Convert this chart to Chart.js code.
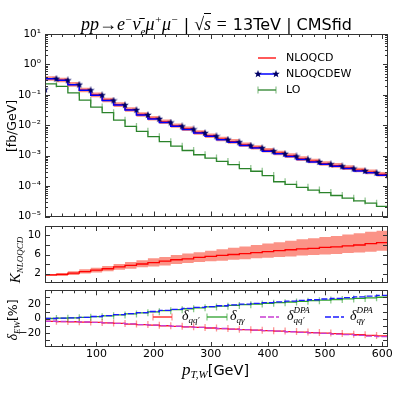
<!DOCTYPE html>
<html>
<head>
<meta charset="utf-8">
<script src="https://cdn.jsdelivr.net/npm/chart.js@4.4.0/dist/chart.umd.min.js"></script>
<style>
  body { margin: 0; background: #fff; width: 399px; height: 399px; overflow: hidden; position: relative; font-family: "DejaVu Sans", sans-serif; }
  canvas { position: absolute; left: 0; }
  .t { position: absolute; white-space: nowrap; color: #000; line-height: 1; }
  .m { font-family: "Liberation Serif", serif; font-style: italic; }
  sup, sub { font-size: 0.62em; line-height: 0; }
  .rot { transform: translate(-50%, -50%) rotate(-90deg); }
</style>
</head>
<body>
<canvas id="cMain" width="399" height="222" style="top:0px"></canvas>
<canvas id="cK" width="399" height="66" style="top:220px"></canvas>
<canvas id="cD" width="399" height="114" style="top:285px"></canvas>

<div class="t" style="left:45px;width:343px;top:15px;text-align:center;font-size:16px;">
  <span class="m" style="font-size:18px">pp→e<sup>−</sup>ν̄<sub>e</sub>μ<sup>+</sup>μ<sup>−</sup></span> | <span class="m" style="font-size:18px">√<span style="border-top:1px solid #000">s</span> =</span> 13TeV | CMSfid
</div>
<div class="t rot" style="left:12px;top:126px;font-size:12.5px;">[fb/GeV]</div>
<div class="t rot" style="left:15px;top:260px;"><span class="m" style="font-size:15px">K</span><span class="m" style="font-size:9px;position:relative;top:3px">NLOQCD</span></div>
<div class="t rot" style="left:13px;top:320px;font-size:12.5px;"><span class="m" style="font-size:14px">δ</span><span class="m" style="font-size:9px;position:relative;top:3px">EW</span>[%]</div>
<div class="t" style="left:182px;top:361px;font-size:14.5px;"><span class="m" style="font-size:17px">p</span><span class="m" style="font-size:11px;position:relative;top:3px">T,W</span>[GeV]</div>

<script>
// bin edges (pT,W in GeV); each value is the bin that ends at that edge
var ptW = [10, 30, 50, 70, 90, 110, 130, 150, 170, 190, 210, 230, 250, 270, 290, 310,
           330, 350, 370, 390, 410, 430, 450, 470, 490, 510, 530, 550, 570, 590, 610];

// main panel, fb/GeV
var nloqcd = [0.152, 0.34, 0.302, 0.218, 0.143, 0.099, 0.067, 0.0475, 0.0327, 0.0226, 0.0168,
              0.0128, 0.0096, 0.0076, 0.00578, 0.00452, 0.00352, 0.0029, 0.00225, 0.00186, 0.00148,
              0.00121, 0.00099, 0.00079, 0.00066, 0.00055, 0.000472, 0.000398, 0.000335, 0.000288, 0.000242];
var nloqcdUp = [0.182, 0.41, 0.362, 0.262, 0.172, 0.119, 0.080, 0.057, 0.039, 0.027, 0.020,
                0.0154, 0.0115, 0.0091, 0.0069, 0.0054, 0.0042, 0.0035, 0.0027, 0.0022, 0.00178,
                0.00145, 0.00119, 0.00095, 0.00079, 0.00066, 0.00057, 0.00048, 0.0004, 0.00035, 0.00029];
var nloqcdDn = [0.129, 0.29, 0.257, 0.185, 0.122, 0.084, 0.057, 0.040, 0.0278, 0.0192, 0.0143,
                0.0109, 0.0082, 0.0065, 0.0049, 0.00384, 0.003, 0.00247, 0.00191, 0.00158, 0.00126,
                0.00103, 0.00084, 0.00067, 0.00056, 0.00047, 0.0004, 0.00034, 0.000285, 0.000245, 0.000206];
var nloqcdew = [0.15, 0.338, 0.30, 0.216, 0.141, 0.097, 0.065, 0.046, 0.0316, 0.0218, 0.0162,
                0.0123, 0.0092, 0.0073, 0.00554, 0.00433, 0.00336, 0.00277, 0.00214, 0.00177, 0.00141,
                0.00115, 0.00094, 0.00075, 0.00062, 0.00052, 0.000446, 0.000376, 0.000316, 0.000272, 0.000228];
var lo = [0.09, 0.228, 0.19, 0.116, 0.0668, 0.0396, 0.026, 0.0147, 0.00915, 0.0063, 0.0042,
          0.00289, 0.00205, 0.00148, 0.00107, 0.000836, 0.000648, 0.000507, 0.000376, 0.000307, 0.000222,
          0.000139, 0.000114, 0.000091, 0.000074, 0.000061, 0.000049, 0.00004, 0.0000326, 0.0000274, 0.0000214];

// K factor panel
var kNlo   = [1.6, 1.7, 1.8, 2.1, 2.4, 2.7, 3.0, 3.4, 3.7, 4.0, 4.3, 4.6, 4.9, 5.1, 5.4, 5.6,
              5.8, 6.0, 6.2, 6.4, 6.6, 6.8, 7.0, 7.2, 7.3, 7.5, 7.6, 7.8, 8.0, 8.3, 8.5];
var kNloUp = [1.8, 1.9, 2.1, 2.5, 2.9, 3.2, 3.6, 4.0, 4.4, 4.8, 5.2, 5.5, 5.9, 6.2, 6.5, 6.8,
              7.1, 7.4, 7.7, 8.0, 8.3, 8.6, 8.9, 9.2, 9.4, 9.7, 9.9, 10.2, 10.5, 10.8, 11.0];
var kNloDn = [1.4, 1.5, 1.5, 1.7, 2.0, 2.2, 2.5, 2.8, 3.0, 3.3, 3.5, 3.7, 4.0, 4.2, 4.4, 4.6,
              4.7, 4.9, 5.0, 5.2, 5.3, 5.5, 5.6, 5.8, 5.9, 6.0, 6.1, 6.3, 6.4, 6.6, 6.8];

// EW corrections, %
var dQQ    = [-3.5, -3.8, -4.1, -4.4, -4.8, -5.3, -6.0, -6.8, -7.6, -8.4, -9.2, -10.0, -10.8, -11.6, -12.4, -13.2,
              -14.0, -14.8, -15.5, -16.2, -16.9, -17.6, -18.3, -19.0, -19.7, -20.4, -21.1, -21.9, -22.7, -23.6, -24.4];
var dQA    = [0, 0.2, 0.6, 1.1, 1.8, 2.8, 4.0, 5.3, 6.7, 8.2, 9.7, 11.2, 12.6, 14.0, 15.3, 16.5,
              17.6, 18.7, 19.7, 20.7, 21.7, 22.6, 23.5, 24.4, 25.3, 26.2, 27.0, 27.8, 28.6, 29.4, 30.2];
var dQQdpa = [-3.4, -3.7, -4.0, -4.3, -4.7, -5.2, -5.9, -6.7, -7.5, -8.3, -9.1, -9.9, -10.7, -11.5, -12.3, -13.1,
              -13.9, -14.7, -15.4, -16.2, -16.9, -17.7, -18.5, -19.3, -20.1, -20.9, -21.7, -22.6, -23.5, -24.6, -25.5];
var dQAdpa = [0, 0.2, 0.6, 1.1, 1.9, 3.0, 4.2, 5.6, 7.1, 8.6, 10.1, 11.6, 13.1, 14.5, 15.8, 17.0,
              18.2, 19.4, 20.5, 21.6, 22.7, 23.7, 24.7, 25.7, 26.7, 27.7, 28.7, 29.7, 30.7, 31.7, 32.7];

var xTicks = [100, 200, 300, 400, 500, 600];
var yTicksMain = [1e-5, 1e-4, 1e-3, 1e-2, 1e-1, 1, 10];
var yTicksK = [2, 6, 10];
var yTicksD = [-20, 0, 20];
var mainNames = ['NLOQCD', 'NLOQCDEW', 'LO'];
var deltaNames = [['qq′', ''], ['qγ', ''], ['qq′', 'DPA'], ['qγ', 'DPA']];

function pts(vals) {
  return ptW.map(function (x, i) { return { x: x, y: vals[i] }; });
}

function starImg(size, color) {
  var c = document.createElement('canvas');
  c.width = c.height = size;
  var g = c.getContext('2d');
  var R = size / 2, r = R * 0.42;
  g.fillStyle = color;
  g.beginPath();
  for (var i = 0; i < 10; i++) {
    var a = -Math.PI / 2 + i * Math.PI / 5;
    var rr = i % 2 ? r : R;
    g.lineTo(R + rr * Math.cos(a), R + rr * Math.sin(a));
  }
  g.closePath();
  g.fill();
  return c;
}
var star = starImg(8, '#000066');

var supMap = { '-': '⁻', '0': '⁰', '1': '¹', '2': '²', '3': '³', '4': '⁴', '5': '⁵' };
function pow10(v) {
  var e = String(Math.round(Math.log10(v)));
  return '10' + e.split('').map(function (c) { return supMap[c]; }).join('');
}

// frame with inward ticks on all four sides
function frame(xMaj, xMin, yMaj, yMin) {
  return {
    id: 'frame',
    afterDatasetsDraw: function (chart) {
      var ctx = chart.ctx, a = chart.chartArea, sx = chart.scales.x, sy = chart.scales.y;
      ctx.save();
      ctx.strokeStyle = '#333';
      ctx.lineWidth = 1;
      function seg(x0, y0, x1, y1) { ctx.beginPath(); ctx.moveTo(x0, y0); ctx.lineTo(x1, y1); ctx.stroke(); }
      function xt(list, len) {
        list.forEach(function (v) {
          var p = Math.round(sx.getPixelForValue(v)) + 0.5;
          seg(p, a.top, p, a.top + len); seg(p, a.bottom, p, a.bottom - len);
        });
      }
      function yt(list, len) {
        list.forEach(function (v) {
          var p = Math.round(sy.getPixelForValue(v)) + 0.5;
          seg(a.left, p, a.left + len, p); seg(a.right, p, a.right - len, p);
        });
      }
      xt(xMaj, 5); xt(xMin, 3); yt(yMaj, 5); yt(yMin, 3);
      ctx.strokeRect(Math.round(a.left) + 0.5, Math.round(a.top) + 0.5,
                     Math.round(a.right - a.left) - 1, Math.round(a.bottom - a.top) - 1);
      ctx.restore();
    }
  };
}

var xMinor = [];
for (var v = 20; v <= 600; v += 20) if (v % 100) xMinor.push(v);
var logMinor = [];
yTicksMain.slice(0, -1).forEach(function (d) { for (var k = 2; k <= 9; k++) logMinor.push(d * k); });

function noPad(s) { s.paddingTop = 0; s.paddingBottom = 0; s.paddingLeft = 0; s.paddingRight = 0; }

function xAxis(show) {
  return {
    type: 'linear', min: 10, max: 610, display: show,
    grid: { display: false, drawTicks: false }, border: { display: false },
    afterBuildTicks: function (s) { s.ticks = xTicks.map(function (v) { return { value: v }; }); },
    afterFit: function (s) { noPad(s); if (show) s.height = 18; },
    ticks: { color: '#000', font: { family: 'DejaVu Sans', size: 11 }, padding: 1, maxRotation: 0 }
  };
}
function yAxis(extra) {
  var o = {
    grid: { display: false, drawTicks: false }, border: { display: false },
    afterFit: function (s) { noPad(s); s.width = 45; },
    ticks: { color: '#000', font: { family: 'DejaVu Sans', size: 10.5 }, padding: 4 }
  };
  for (var k in extra) o[k] = extra[k];
  return o;
}
var base = {
  responsive: false, animation: false, events: [],
  plugins: { legend: { display: false }, tooltip: { enabled: false } }
};
function opts(padding, scales) {
  return Object.assign({}, base, { layout: { padding: padding }, scales: scales });
}

var BAND = 'rgba(250,128,114,0.85)';

// main panel legend
var mainLegend = {
  id: 'mainLegend',
  afterDatasetsDraw: function (chart) {
    var ctx = chart.ctx;
    var rows = [chart.data.datasets[1], chart.data.datasets[0], chart.data.datasets[4]];
    ctx.save();
    rows.forEach(function (ds, i) {
      var y = 58 + i * 16;
      ctx.strokeStyle = ds.borderColor;
      ctx.lineWidth = ds.borderWidth;
      ctx.beginPath(); ctx.moveTo(258, y); ctx.lineTo(276, y); ctx.stroke();
      if (ds.pointRadius > 0) {
        [258, 276].forEach(function (x) {
          ctx.strokeStyle = ds.pointBorderColor; ctx.fillStyle = ds.pointBorderColor;
          ctx.lineWidth = 1.3;
          Chart.helpers.drawPoint(ctx, { pointStyle: ds.pointStyle, rotation: ds.pointRotation || 0, radius: ds.pointRadius, borderWidth: 1.3 }, x, y);
        });
      }
      ctx.fillStyle = '#000';
      ctx.font = '11px "DejaVu Sans"';
      ctx.textBaseline = 'middle';
      ctx.fillText(mainNames[i], 286, y);
    });
    ctx.restore();
  }
};

new Chart(document.getElementById('cMain'), {
  type: 'line',
  data: {
    datasets: [
      { label: mainNames[1], data: pts(nloqcdew), stepped: 'after', borderColor: '#0000ff', borderWidth: 1.5,
        pointStyle: star, pointRadius: 4, pointBorderColor: '#000066', order: 0 },
      { label: mainNames[0], data: pts(nloqcd), stepped: 'after', borderColor: '#ff0000', borderWidth: 1.3,
        pointRadius: 0, order: 1 },
      { label: 'up', data: pts(nloqcdUp), stepped: 'after', borderWidth: 0, pointRadius: 0,
        fill: '+1', backgroundColor: BAND, order: 2 },
      { label: 'dn', data: pts(nloqcdDn), stepped: 'after', borderWidth: 0, pointRadius: 0, fill: false, order: 3 },
      { label: mainNames[2], data: pts(lo), stepped: 'after', borderColor: '#2a822a', borderWidth: 1.3,
        pointStyle: 'line', pointRotation: 90, pointRadius: 3.5, pointBorderWidth: 1.3,
        pointBorderColor: 'rgba(60,150,60,0.55)', order: 4 }
    ]
  },
  options: opts({ left: 0, right: 11, top: 34, bottom: 4 }, {
    x: xAxis(false),
    y: yAxis({
      type: 'logarithmic', min: 1e-5, max: 10,
      afterBuildTicks: function (s) { s.ticks = yTicksMain.map(function (v) { return { value: v }; }); },
      ticks: { color: '#000', font: { family: 'DejaVu Sans', size: 10.5 }, padding: 4, callback: pow10 }
    })
  }),
  plugins: [frame(xTicks, xMinor, yTicksMain, logMinor), mainLegend]
});

new Chart(document.getElementById('cK'), {
  type: 'line',
  data: {
    datasets: [
      { label: 'K', data: pts(kNlo), stepped: 'after', borderColor: '#ff0000', borderWidth: 1.3, pointRadius: 0, order: 0 },
      { label: 'up', data: pts(kNloUp), stepped: 'after', borderWidth: 0, pointRadius: 0, fill: '+1', backgroundColor: BAND, order: 1 },
      { label: 'dn', data: pts(kNloDn), stepped: 'after', borderWidth: 0, pointRadius: 0, fill: false, order: 2 }
    ]
  },
  options: opts({ left: 0, right: 11, top: 6, bottom: 3 }, {
    x: xAxis(false),
    y: yAxis({
      type: 'linear', min: 0, max: 12,
      afterBuildTicks: function (s) { s.ticks = yTicksK.map(function (v) { return { value: v }; }); }
    })
  }),
  plugins: [frame(xTicks, xMinor, [2, 4, 6, 8, 10], [])]
});

// EW legend
var deltaLegend = {
  id: 'deltaLegend',
  afterDatasetsDraw: function (chart) {
    var ctx = chart.ctx, y = 32;
    var pos = [[153, 172, 182], [207, 227, 230], [260, 279, 287], [325, 344, 350]];
    var ds = chart.data.datasets;
    ctx.save();
    [0, 1, 2, 3].forEach(function (i) {
      var d = ds.filter(function (q) { return q.key === i; })[0];
      var p = pos[i];
      ctx.strokeStyle = d.borderColor; ctx.lineWidth = d.borderWidth;
      ctx.setLineDash(d.borderDash || []);
      ctx.beginPath(); ctx.moveTo(p[0], y); ctx.lineTo(p[1], y); ctx.stroke();
      ctx.setLineDash([]);
      if (d.pointRadius > 0) {
        [p[0], p[1]].forEach(function (x) {
          ctx.strokeStyle = d.pointBorderColor; ctx.lineWidth = 1.3;
          Chart.helpers.drawPoint(ctx, { pointStyle: 'line', rotation: 90, radius: d.pointRadius, borderWidth: 1.3 }, x, y);
        });
      }
      ctx.fillStyle = '#000';
      ctx.textBaseline = 'alphabetic';
      ctx.font = 'italic 14px "Liberation Serif"';
      ctx.fillText('δ', p[2], y + 3);
      var w = ctx.measureText('δ').width;
      ctx.font = 'italic 9px "Liberation Serif"';
      ctx.fillText(deltaNames[i][0], p[2] + w, y + 6);
      if (deltaNames[i][1]) ctx.fillText(deltaNames[i][1], p[2] + w, y - 4);
    });
    ctx.restore();
  }
};

new Chart(document.getElementById('cD'), {
  type: 'line',
  data: {
    datasets: [
      { key: 3, label: 'dQAdpa', data: pts(dQAdpa), stepped: 'after', borderColor: '#1a1aff', borderWidth: 1.3,
        borderDash: [6, 2], pointRadius: 0, order: 0 },
      { key: 2, label: 'dQQdpa', data: pts(dQQdpa), stepped: 'after', borderColor: 'rgb(200,60,210)', borderWidth: 1.3,
        borderDash: [6, 2], pointRadius: 0, order: 1 },
      { key: 1, label: 'dQA', data: pts(dQA), stepped: 'after', borderColor: '#2ca02c', borderWidth: 1.3,
        pointStyle: 'line', pointRotation: 90, pointRadius: 3.5, pointBorderWidth: 1.3,
        pointBorderColor: 'rgba(44,160,44,0.55)', order: 2 },
      { key: 0, label: 'dQQ', data: pts(dQQ), stepped: 'after', borderColor: '#ff1a1a', borderWidth: 1.3,
        pointStyle: 'line', pointRotation: 90, pointRadius: 3.5, pointBorderWidth: 1.3,
        pointBorderColor: 'rgba(255,60,60,0.55)', order: 3 }
    ]
  },
  options: opts({ left: 0, right: 11, top: 4, bottom: 34 }, {
    x: xAxis(true),
    y: yAxis({
      type: 'linear', min: -40, max: 40,
      afterBuildTicks: function (s) { s.ticks = yTicksD.map(function (v) { return { value: v }; }); },
      ticks: { color: '#000', font: { family: 'DejaVu Sans', size: 10.5 }, padding: 4,
        callback: function (v) { return v < 0 ? '−' + Math.abs(v) : String(v); } }
    })
  }),
  plugins: [frame(xTicks, xMinor, [-30, -20, -10, 0, 10, 20, 30], []), deltaLegend]
});
</script>
</body>
</html>
